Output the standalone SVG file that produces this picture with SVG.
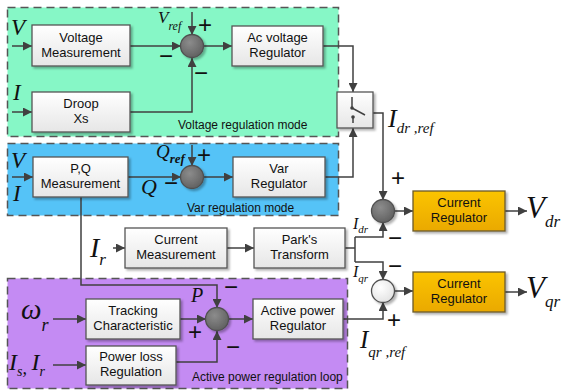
<svg xmlns="http://www.w3.org/2000/svg" width="561" height="391" viewBox="0 0 561 391">
<defs>
<linearGradient id="gBox" x1="0" y1="0" x2="0" y2="1"><stop offset="0" stop-color="#ffffff"/><stop offset="1" stop-color="#e6e6e6"/></linearGradient>
<linearGradient id="gOr" x1="0" y1="0" x2="0" y2="1"><stop offset="0" stop-color="#fbc400"/><stop offset="1" stop-color="#eaa900"/></linearGradient>
<radialGradient id="gDark" cx="0.4" cy="0.35" r="0.7"><stop offset="0" stop-color="#8c8c8c"/><stop offset="1" stop-color="#5f5f5f"/></radialGradient>
<radialGradient id="gLight" cx="0.4" cy="0.35" r="0.7"><stop offset="0" stop-color="#ffffff"/><stop offset="1" stop-color="#e2e2e2"/></radialGradient>
<filter id="sh" x="-20%" y="-20%" width="140%" height="150%"><feDropShadow dx="2" dy="2" stdDeviation="1.2" flood-color="#000" flood-opacity="0.3"/></filter>
<marker id="ar" viewBox="0 0 10 10" refX="10" refY="5" markerWidth="9" markerHeight="9" markerUnits="userSpaceOnUse" orient="auto"><path d="M0,0 L10,5 L0,10 z" fill="#404040"/></marker>
</defs>
<style>
.reg{stroke:#555;stroke-width:1.5;stroke-dasharray:8 5}
.box{fill:url(#gBox);stroke:#555;stroke-width:1.3;filter:url(#sh)}
.obox{fill:url(#gOr);stroke:#6b5a2a;stroke-width:1.3;filter:url(#sh)}
.sum{fill:url(#gDark);stroke:#505050;stroke-width:1.3;filter:url(#sh)}
.sumL{fill:url(#gLight);stroke:#505050;stroke-width:1.3;filter:url(#sh)}
.bt{font-family:"Liberation Sans",Arial,sans-serif;font-size:13px;fill:#111;text-anchor:middle}
.rt{font-family:"Liberation Sans",Arial,sans-serif;font-size:12px;fill:#111}
.m{font-family:"Liberation Serif","Times New Roman",serif;font-style:italic;fill:#111}
.sg{font-family:"Liberation Sans",Arial,sans-serif;font-size:24px;fill:#111;text-anchor:middle}
.ln{fill:none;stroke:#404040;stroke-width:1.5}
.la{fill:none;stroke:#404040;stroke-width:1.5;marker-end:url(#ar)}
</style>

<g id="regions">
<rect id="voltage-mode" class="reg" x="7.5" y="7.5" width="331" height="129" fill="#86f7c6"/>
<rect id="var-mode" class="reg" x="7.5" y="143.5" width="331" height="72" fill="#55c3f7"/>
<rect id="active-loop" class="reg" x="7.5" y="278.5" width="340" height="110" fill="#c48bf3"/>
<text class="rt" x="178" y="129">Voltage regulation mode</text>
<text class="rt" x="187" y="212">Var regulation mode</text>
<text class="rt" x="192" y="381">Active power regulation loop</text>
</g>

<g id="connectors">
<path class="la" d="M12,46 H32"/>
<path class="la" d="M12,112 H32"/>
<path class="la" d="M130,46 H181"/>
<path class="la" d="M130,112 H192 V58"/>
<path class="la" d="M192,12 V35"/>
<path class="la" d="M203,46 H232"/>
<path class="la" d="M323,46 H353 V92"/>
<path class="la" d="M325,177 H353 V128"/>
<path class="la" d="M373,113 H383 V200"/>
<path class="la" d="M12,177 H33"/>
<path class="la" d="M128,177 H181"/>
<path class="la" d="M192,145 V166"/>
<path class="la" d="M203,177 H233"/>
<path class="la" d="M81,197 V285 H217 V308"/>
<path class="la" d="M113,248 H125"/>
<path class="la" d="M227,248 H254"/>
<path class="ln" d="M345,248 H355 M355,237 V262"/>
<path class="la" d="M355,237 H383 V222"/>
<path class="la" d="M355,262 H383 V280"/>
<path class="la" d="M394,211 H413"/>
<path class="la" d="M505,211 H527"/>
<path class="la" d="M394,291 H413"/>
<path class="la" d="M505,292 H527"/>
<path class="la" d="M343,319 H383 V302"/>
<path class="la" d="M53,319 H86"/>
<path class="la" d="M53,365 H86"/>
<path class="la" d="M180,319 H206"/>
<path class="la" d="M176,362 H217 V331"/>
<path class="la" d="M228,319 H253"/>
</g>

<g id="voltage-measurement"><rect class="box" x="32" y="25" width="98" height="41"/><text class="bt" x="81" y="42">Voltage</text><text class="bt" x="81" y="57">Measurement</text></g>
<g id="droop"><rect class="box" x="32" y="92" width="98" height="40"/><text class="bt" x="81" y="108">Droop</text><text class="bt" x="81" y="123">Xs</text></g>
<g id="ac-voltage-regulator"><rect class="box" x="232" y="26" width="91" height="40"/><text class="bt" x="277.5" y="42">Ac voltage</text><text class="bt" x="277.5" y="57">Regulator</text></g>
<g id="pq-measurement"><rect class="box" x="33" y="157" width="95" height="40"/><text class="bt" x="80.5" y="173">P,Q</text><text class="bt" x="80.5" y="188">Measurement</text></g>
<g id="var-regulator"><rect class="box" x="233" y="157" width="92" height="40"/><text class="bt" x="279" y="173">Var</text><text class="bt" x="279" y="188">Regulator</text></g>
<g id="current-measurement"><rect class="box" x="125" y="228" width="102" height="40"/><text class="bt" x="176" y="244">Current</text><text class="bt" x="176" y="259">Measurement</text></g>
<g id="parks-transform"><rect class="box" x="254" y="228" width="91" height="40"/><text class="bt" x="299.5" y="244">Park's</text><text class="bt" x="299.5" y="259">Transform</text></g>
<g id="tracking-characteristic"><rect class="box" x="86" y="299" width="94" height="40"/><text class="bt" x="133" y="315">Tracking</text><text class="bt" x="133" y="330">Characteristic</text></g>
<g id="power-loss-regulation"><rect class="box" x="86" y="346" width="90" height="39"/><text class="bt" x="131" y="361">Power loss</text><text class="bt" x="131" y="376">Regulation</text></g>
<g id="active-power-regulator"><rect class="box" x="253" y="299" width="90" height="40"/><text class="bt" x="298" y="315">Active power</text><text class="bt" x="298" y="330">Regulator</text></g>
<g id="current-regulator-d"><rect class="obox" x="413" y="191" width="92" height="40"/><text class="bt" x="459" y="207">Current</text><text class="bt" x="459" y="222">Regulator</text></g>
<g id="current-regulator-q"><rect class="obox" x="413" y="272" width="92" height="40"/><text class="bt" x="459" y="288">Current</text><text class="bt" x="459" y="303">Regulator</text></g>

<g id="switch">
<rect class="box" x="337" y="92" width="36" height="36"/>
<path class="ln" d="M352,97 V108 L365,115 M353,117 V123"/>
<circle cx="352" cy="108" r="1.8" fill="#404040"/>
<circle cx="353" cy="117" r="1.8" fill="#404040"/>
</g>

<g id="sum-voltage"><circle class="sum" cx="192" cy="46" r="11.5"/></g>
<g id="sum-var"><circle class="sum" cx="192" cy="177" r="11.5"/></g>
<g id="sum-d"><circle class="sum" cx="383" cy="211" r="11.5"/></g>
<g id="sum-q"><circle class="sumL" cx="383" cy="291" r="11.5"/></g>
<g id="sum-active"><circle class="sum" cx="217" cy="319" r="11.5"/></g>

<g id="signs">
<text class="sg" x="205" y="33">+</text>
<text class="sg" x="166" y="64">−</text>
<text class="sg" x="201" y="81">−</text>
<text class="sg" x="204" y="163">+</text>
<text class="sg" x="171" y="191">−</text>
<text class="sg" x="398" y="186">+</text>
<text class="sg" x="395" y="246">−</text>
<text class="sg" x="395" y="274">−</text>
<text class="sg" x="394" y="328">+</text>
<text class="sg" x="231" y="295">−</text>
<text class="sg" x="195" y="340">+</text>
<text class="sg" x="233" y="355">−</text>
</g>

<g id="labels">
<text class="m" x="11" y="35" font-size="23">V</text>
<text class="m" x="13" y="100" font-size="23">I</text>
<text class="m" x="158" y="23" font-size="17">V<tspan font-size="12" dy="7">ref</tspan></text>
<text class="m" x="11" y="168" font-size="23">V</text>
<text class="m" x="13" y="201" font-size="23">I</text>
<text class="m" x="141" y="194" font-size="22">Q</text>
<text class="m" x="156" y="158" font-size="19">Q<tspan font-size="13" font-weight="bold" dy="5">ref</tspan></text>
<text class="m" x="90" y="257" font-size="28">I<tspan font-size="17" dy="8">r</tspan></text>
<text class="m" x="388" y="127" font-size="26">I<tspan font-size="15" dy="6">dr ,ref</tspan></text>
<text class="m" x="526" y="218" font-size="31">V<tspan font-size="17" dy="9">dr</tspan></text>
<text class="m" x="526" y="298" font-size="31">V<tspan font-size="17" dy="9">qr</tspan></text>
<text class="m" x="360" y="348" font-size="25">I<tspan font-size="15" dy="9">qr ,ref</tspan></text>
<text class="m" x="353" y="229" font-size="16">I<tspan font-size="11" dy="4">dr</tspan></text>
<text class="m" x="353" y="277" font-size="16">I<tspan font-size="11" dy="5">qr</tspan></text>
<text class="m" x="191" y="302" font-size="20">P</text>
<text class="m" x="21" y="319" font-size="29">ω<tspan font-size="18" dy="12">r</tspan></text>
<text class="m" x="9" y="370" font-size="24">I<tspan font-size="14" dy="6">s</tspan><tspan font-size="18" dy="-2">, </tspan><tspan font-size="24" dy="-4">I</tspan><tspan font-size="14" dy="6">r</tspan></text>
</g>
</svg>
